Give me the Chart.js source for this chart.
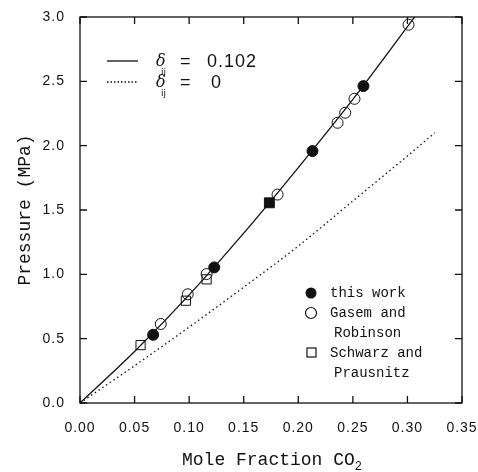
<!DOCTYPE html>
<html>
<head>
<meta charset="utf-8">
<script src="https://cdn.jsdelivr.net/npm/chart.js@4"></script>
<style>
  body { margin: 0; background: #fff; }
  #wrap { width: 478px; height: 472px; }
</style>
</head>
<body>
<div id="wrap"><canvas id="myChart"></canvas></div>
<script>
// model curve, delta_ij = 0.102 (runs past the top, clipped)
let fitX = [0, 0.05, 0.10, 0.15, 0.20, 0.25, 0.30, 0.31];
let fitY = [0, 0.40, 0.84, 1.32, 1.83, 2.36, 2.925, 3.04];

// model curve, delta_ij = 0
let zeroX = [0, 0.05, 0.10, 0.15, 0.20, 0.25, 0.30, 0.325];
let zeroY = [0, 0.29, 0.59, 0.90, 1.22, 1.57, 1.92, 2.10];

// this work
let workX = [0.067, 0.123, 0.1735, 0.213, 0.2597];
let workY = [0.53, 1.054, 1.556, 1.958, 2.463];

// Gasem and Robinson
let gasemX = [0.074, 0.0987, 0.116, 0.181, 0.236, 0.243, 0.2515, 0.301];
let gasemY = [0.614, 0.845, 1.002, 1.62, 2.178, 2.256, 2.364, 2.94];

// Schwarz and Prausnitz
let schwarzX = [0.0555, 0.097, 0.116];
let schwarzY = [0.45, 0.795, 0.961];

let xTicks = [0, 0.05, 0.10, 0.15, 0.20, 0.25, 0.30, 0.35];
let yTicks = [0, 0.5, 1.0, 1.5, 2.0, 2.5, 3.0];

function toPoints(xs, ys) {
    return xs.map(function(x, i) { return { x: x, y: ys[i] }; });
}

const INK = '#111';

// box, inside ticks, titles and legends
const framePlugin = {
    id: 'frame',
    beforeDraw: function(chart) {
        chart.ctx.letterSpacing = '1px';
    },
    afterDraw: function(chart) {
        let ctx = chart.ctx;
        let a = chart.chartArea;
        let sx = chart.scales.x;
        let sy = chart.scales.y;
        ctx.save();
        ctx.letterSpacing = '0px';
        ctx.strokeStyle = INK;
        ctx.fillStyle = INK;
        ctx.lineWidth = 1.3;
        ctx.strokeRect(a.left, a.top, a.right - a.left, a.bottom - a.top);

        let tl = 7;
        ctx.beginPath();
        xTicks.forEach(function(v) {
            let px = sx.getPixelForValue(v);
            ctx.moveTo(px, a.bottom); ctx.lineTo(px, a.bottom - tl);
            ctx.moveTo(px, a.top); ctx.lineTo(px, a.top + tl);
        });
        yTicks.forEach(function(v) {
            let py = sy.getPixelForValue(v);
            ctx.moveTo(a.left, py); ctx.lineTo(a.left + tl, py);
            ctx.moveTo(a.right, py); ctx.lineTo(a.right - tl, py);
        });
        ctx.stroke();

        // x title with subscript
        ctx.font = '18px "Liberation Mono"';
        ctx.textBaseline = 'alphabetic';
        let main = 'Mole Fraction CO';
        let wMain = ctx.measureText(main).width;
        ctx.font = '12px "Liberation Mono"';
        let wSub = ctx.measureText('2').width;
        let startX = 272 - (wMain + wSub) / 2;
        ctx.font = '18px "Liberation Mono"';
        ctx.textAlign = 'left';
        ctx.fillText(main, startX, 465);
        ctx.font = '12px "Liberation Mono"';
        ctx.fillText('2', startX + wMain, 470);

        // y title
        ctx.save();
        ctx.translate(25, 210);
        ctx.rotate(-Math.PI / 2);
        ctx.font = '18px "Liberation Mono"';
        ctx.textAlign = 'center';
        ctx.textBaseline = 'middle';
        ctx.fillText('Pressure (MPa)', 0, 0);
        ctx.restore();

        // top-left legend
        ctx.lineWidth = 1.3;
        ctx.beginPath();
        ctx.moveTo(107, 61); ctx.lineTo(138, 61);
        ctx.stroke();
        ctx.setLineDash([1.5, 2]);
        ctx.beginPath();
        ctx.moveTo(107, 82); ctx.lineTo(138, 82);
        ctx.stroke();
        ctx.setLineDash([]);
        let rows = [[66, '0.102', 207], [87, '0', 211]];
        rows.forEach(function(r) {
            let base = r[0];
            ctx.textAlign = 'left';
            ctx.textBaseline = 'alphabetic';
            ctx.font = 'italic 16px "DejaVu Serif"';
            ctx.fillText('δ', 156, base);
            ctx.font = '9px "DejaVu Sans"';
            ctx.fillText('ij', 161, base + 9);
            ctx.font = '18px "Liberation Sans"';
            ctx.fillText('=', 180, base + 1);
            ctx.letterSpacing = '1px';
            ctx.fillText(r[1], r[2], base + 1);
            ctx.letterSpacing = '0px';
        });

        // bottom-right legend
        ctx.font = '14px "Liberation Mono"';
        ctx.textAlign = 'left';
        ctx.textBaseline = 'middle';
        ctx.lineWidth = 1.2;
        ctx.beginPath();
        ctx.arc(311, 293, 5.5, 0, Math.PI * 2);
        ctx.fill();
        ctx.fillText('this work', 330, 293);
        ctx.beginPath();
        ctx.arc(311, 313, 5.5, 0, Math.PI * 2);
        ctx.stroke();
        ctx.fillText('Gasem and', 330, 313);
        ctx.fillText('Robinson', 334, 333);
        ctx.strokeRect(307, 348, 9, 9);
        ctx.fillText('Schwarz and', 330, 353);
        ctx.fillText('Prausnitz', 334, 373);
        ctx.restore();
    }
};

let ctx = document.getElementById('myChart').getContext('2d');
let chart = new Chart(ctx, {
    type: 'scatter',
    data: {
        datasets: [{
            label: 'this work',
            data: toPoints(workX, workY),
            pointStyle: ['circle', 'circle', 'rect', 'circle', 'circle'],
            pointRadius: [5.5, 5.5, 7, 5.5, 5.5],
            backgroundColor: INK,
            borderColor: INK,
            borderWidth: 1,
            clip: false,
            order: 1
        }, {
            label: 'Gasem and Robinson',
            data: toPoints(gasemX, gasemY),
            pointStyle: 'circle',
            pointRadius: 5.5,
            backgroundColor: 'rgba(0,0,0,0)',
            borderColor: INK,
            borderWidth: 1,
            clip: false,
            order: 2
        }, {
            label: 'Schwarz and Prausnitz',
            data: toPoints(schwarzX, schwarzY),
            pointStyle: 'rect',
            pointRadius: 6.5,
            backgroundColor: 'rgba(0,0,0,0)',
            borderColor: INK,
            borderWidth: 1,
            clip: false,
            order: 3
        }, {
            type: 'line',
            label: 'δij = 0.102',
            data: toPoints(fitX, fitY),
            borderColor: INK,
            borderWidth: 1.3,
            pointRadius: 0,
            cubicInterpolationMode: 'monotone',
            fill: false,
            clip: 0,
            order: 4
        }, {
            type: 'line',
            label: 'δij = 0',
            data: toPoints(zeroX, zeroY),
            borderColor: INK,
            borderWidth: 1.3,
            borderDash: [1.5, 3],
            pointRadius: 0,
            cubicInterpolationMode: 'monotone',
            fill: false,
            order: 5
        }]
    },
    options: {
        responsive: true,
        maintainAspectRatio: false,
        animation: false,
        layout: { padding: { top: 17, right: 16, left: 0, bottom: 0 } },
        plugins: {
            legend: { display: false },
            tooltip: { enabled: false }
        },
        scales: {
            x: {
                type: 'linear',
                min: 0,
                max: 0.35,
                afterFit: function(s) { s.height = 69; s.paddingLeft = 0; s.paddingRight = 0; },
                afterBuildTicks: function(s) { s.ticks = xTicks.map(function(v) { return { value: v }; }); },
                grid: { display: false },
                border: { display: false },
                ticks: {
                    padding: 9,
                    maxRotation: 0,
                    autoSkip: false,
                    color: INK,
                    font: { family: 'Liberation Sans', size: 14 },
                    callback: function(v) { return v.toFixed(2); }
                }
            },
            y: {
                type: 'linear',
                min: 0,
                max: 3,
                afterFit: function(s) { s.width = 80; s.paddingTop = 0; s.paddingBottom = 0; },
                afterBuildTicks: function(s) { s.ticks = yTicks.map(function(v) { return { value: v }; }); },
                grid: { display: false },
                border: { display: false },
                ticks: {
                    padding: 7,
                    color: INK,
                    font: { family: 'Liberation Sans', size: 14 },
                    callback: function(v) { return v.toFixed(1); }
                }
            }
        }
    },
    plugins: [framePlugin]
});
</script>
</body>
</html>
